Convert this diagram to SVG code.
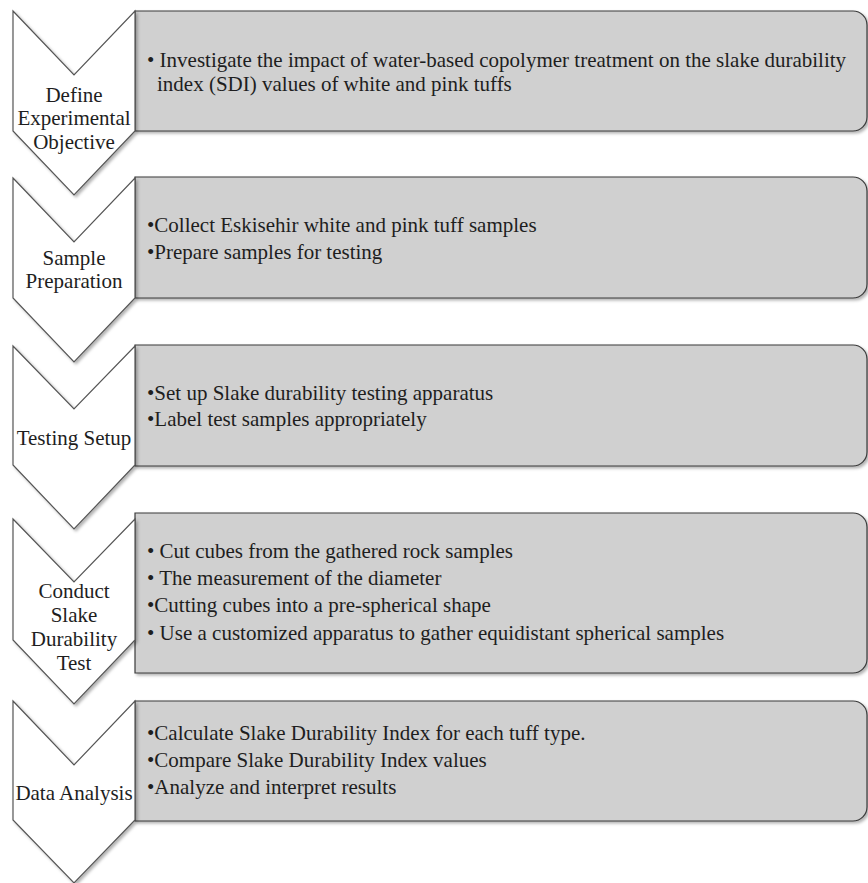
<svg xmlns="http://www.w3.org/2000/svg" width="868" height="883" viewBox="0 0 868 883" font-family="Liberation Serif, DejaVu Serif, serif">
<defs>
<filter id="sh" x="-10%" y="-10%" width="130%" height="130%">
<feDropShadow dx="2" dy="2" stdDeviation="1.8" flood-color="#000" flood-opacity="0.3"/>
</filter>
<style>
.chev{fill:#ffffff;stroke:#555555;stroke-width:1.2;filter:url(#sh)}
.box{fill:#d0d0d0;stroke:#3a3a3a;stroke-width:1.2;filter:url(#sh)}
text{font-family:'Liberation Serif','DejaVu Serif',serif;font-size:21px;fill:#1e1e1e}
.lbl{text-anchor:middle}
</style>
</defs>
<rect width="868" height="883" fill="#ffffff"/>
<g id="connectors"></g>

<g id="step1">
<g id="box1"><path class="box" d="M135,11 H853 A14,14 0 0 1 867,25 V117 A14,14 0 0 1 853,131 H135 Z"/>
<text x="147" y="67">• Investigate the impact of water-based copolymer treatment on the slake durability</text>
<text x="157" y="91">index (SDI) values of white and pink tuffs</text></g>
<g id="chev1"><path class="chev" d="M13,11 L74,75 L135,11 L135,131 L74,195 L13,131 Z"/>
<text class="lbl" x="74" y="102">Define</text>
<text class="lbl" x="74" y="125">Experimental</text>
<text class="lbl" x="74" y="149">Objective</text></g>
</g>

<g id="step2">
<g id="box2"><path class="box" d="M135,177 H853 A14,14 0 0 1 867,191 V284 A14,14 0 0 1 853,298 H135 Z"/>
<text x="147" y="232">•Collect Eskisehir white and pink tuff samples</text>
<text x="147" y="259">•Prepare samples for testing</text></g>
<g id="chev2"><path class="chev" d="M13,178 L74,242 L135,178 L135,298 L74,362 L13,298 Z"/>
<text class="lbl" x="74" y="265">Sample</text>
<text class="lbl" x="74" y="288">Preparation</text></g>
</g>

<g id="step3">
<g id="box3"><path class="box" d="M135,345 H853 A14,14 0 0 1 867,359 V452 A14,14 0 0 1 853,466 H135 Z"/>
<text x="147" y="400">•Set up Slake durability testing apparatus</text>
<text x="147" y="426">•Label test samples appropriately</text></g>
<g id="chev3"><path class="chev" d="M13,346 L74,409 L135,346 L135,465 L74,529 L13,465 Z"/>
<text class="lbl" x="74" y="445">Testing Setup</text></g>
</g>

<g id="step4">
<g id="box4"><path class="box" d="M135,513 H853 A14,14 0 0 1 867,527 V659 A14,14 0 0 1 853,673 H135 Z"/>
<text x="147" y="558">• Cut cubes from the gathered rock samples</text>
<text x="147" y="585">• The measurement of the diameter</text>
<text x="147" y="612">•Cutting cubes into a pre-spherical shape</text>
<text x="147" y="640">• Use a customized apparatus to gather equidistant spherical samples</text></g>
<g id="chev4"><path class="chev" d="M13,519 L74,582 L135,519 L135,640 L74,704 L13,640 Z"/>
<text class="lbl" x="74" y="598">Conduct</text>
<text class="lbl" x="74" y="622">Slake</text>
<text class="lbl" x="74" y="646">Durability</text>
<text class="lbl" x="74" y="670">Test</text></g>
</g>

<g id="step5">
<g id="box5"><path class="box" d="M135,701 H853 A14,14 0 0 1 867,715 V807 A14,14 0 0 1 853,821 H135 Z"/>
<text x="147" y="740">•Calculate Slake Durability Index for each tuff type.</text>
<text x="147" y="767">•Compare Slake Durability Index values</text>
<text x="147" y="794">•Analyze and interpret results</text></g>
<g id="chev5"><path class="chev" d="M13,701 L74,765 L135,701 L135,820 L74,883 L13,820 Z"/>
<text class="lbl" x="74" y="800">Data Analysis</text></g>
</g>
</svg>
